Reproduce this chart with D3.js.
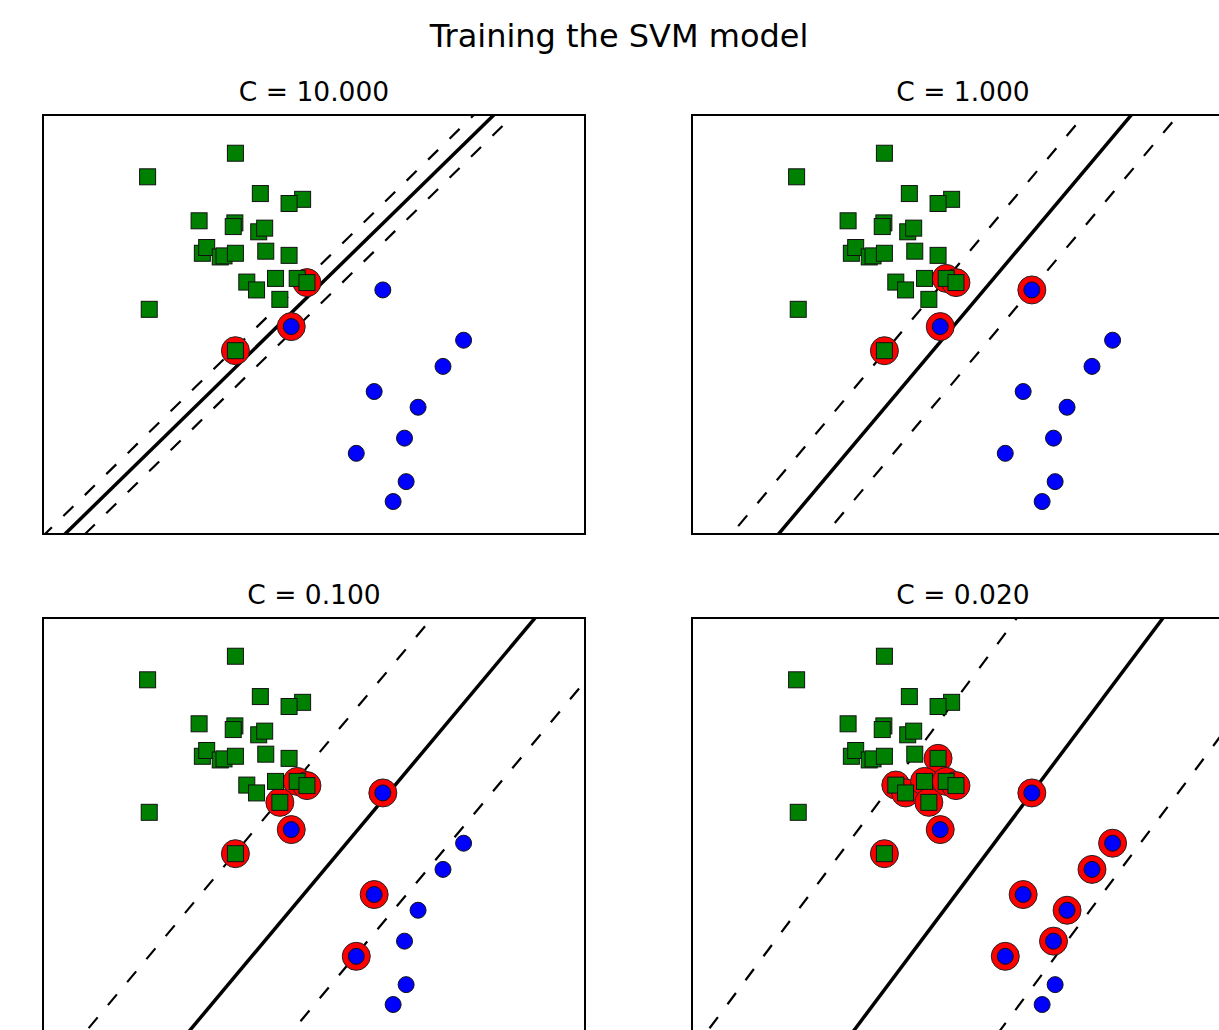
<!DOCTYPE html>
<html>
<head>
<meta charset="utf-8">
<script src="https://cdn.jsdelivr.net/npm/d3@7"></script>
<style>
  body { margin: 0; background: #fff; }
</style>
</head>
<body>
<div id="chart"></div>
<script>
// regularisation values, one per panel
var cValues = [10, 1, 0.1, 0.02];

// class 1 (green squares)
var greenX = [3.55, 1.93, 4.01, 4.79, 4.54, 2.88, 3.54, 3.51, 3.98, 4.09, 2.94, 3.02, 3.27,
              3.34, 3.55, 4.11, 4.54, 3.76, 3.94, 4.29, 4.69, 4.87, 4.37, 1.96, 3.55];
var greenY = [7.27, 6.82, 6.50, 6.39, 6.31, 5.98, 5.94, 5.87, 5.77, 5.84, 5.36, 5.47, 5.29,
              5.31, 5.36, 5.40, 5.32, 4.81, 4.66, 4.88, 4.88, 4.80, 4.48, 4.29, 3.50];

// class 2 (blue dots)
var blueX = [6.27, 4.58, 7.76, 7.38, 6.11, 6.92, 6.67, 5.78, 6.70, 6.46];
var blueY = [4.66, 3.96, 3.70, 3.20, 2.72, 2.42, 1.83, 1.54, 1.00, 0.62];

// decision function w1*x + w2*y + b for each C
var weightX = [2.71, 1.153, 0.526, 0.371];
var weightY = [-2.68, -0.938, -0.4255, -0.2686];
var bias = [-1.10, -1.841, -1.371, -1.075];

// support vectors (indices into the point lists)
var supportGreen = [[21, 24], [20, 21, 24], [20, 21, 22, 24], [16, 17, 18, 19, 20, 21, 22, 24]];
var supportBlue = [[1], [0, 1], [0, 1, 4, 7], [0, 1, 2, 3, 4, 5, 6, 7]];

var xDomain = [0, 10];
var yDomain = [0, 8];

var width = 1219, height = 1030;
var panelW = 542, panelH = 419;
var panelLeft = [43, 692, 43, 692];
var panelTop = [115, 115, 618, 618];

var svg = d3.select("#chart")
  .append("svg")
  .attr("width", width)
  .attr("height", height)
  .style("display", "block")
  .style("background", "#fff");

svg.append("text")
  .attr("x", 619)
  .attr("y", 47)
  .attr("text-anchor", "middle")
  .attr("font-family", "DejaVu Sans")
  .style("font-size", "32px")
  .attr("fill", "#000")
  .text("Training the SVM model");

var x = d3.scaleLinear().domain(xDomain).range([0, panelW]);
var y = d3.scaleLinear().domain(yDomain).range([panelH, 0]);

function drawPanel(i) {
    var g = svg.append("g")
      .attr("transform", "translate(" + panelLeft[i] + "," + panelTop[i] + ")");

    g.append("clipPath")
      .attr("id", "clip" + i)
      .append("rect")
      .attr("width", panelW)
      .attr("height", panelH);

    g.append("text")
      .attr("x", panelW / 2)
      .attr("y", -14)
      .attr("text-anchor", "middle")
      .attr("font-family", "DejaVu Sans")
      .style("font-size", "26.5px")
      .attr("fill", "#000")
      .text("C = " + d3.format(".3f")(cValues[i]));

    var inner = g.append("g").attr("clip-path", "url(#clip" + i + ")");

    // margins (-1, +1) and boundary (0)
    var line = d3.line()
      .x(function(d) { return x(d[0]); })
      .y(function(d) { return y(d[1]); });

    [-1, 0, 1].forEach(function(level) {
        var pts = [xDomain[0] - 2, xDomain[1] + 2].map(function(xv) {
            return [xv, (level - bias[i] - weightX[i] * xv) / weightY[i]];
        });
        inner.append("path")
          .attr("d", line(pts))
          .attr("fill", "none")
          .attr("stroke", "#000")
          .attr("stroke-width", level === 0 ? 3.5 : 2.2)
          .attr("stroke-dasharray", level === 0 ? null : "14,16");
    });

    // rings round the support vectors
    var rings = supportGreen[i].map(function(k) { return [greenX[k], greenY[k]]; })
      .concat(supportBlue[i].map(function(k) { return [blueX[k], blueY[k]]; }));

    inner.selectAll(".ring")
      .data(rings)
      .enter()
      .append("circle")
      .attr("class", "ring")
      .attr("cx", function(d) { return x(d[0]); })
      .attr("cy", function(d) { return y(d[1]); })
      .attr("r", 14)
      .attr("fill", "#ff0000")
      .attr("stroke", "#222")
      .attr("stroke-width", 1);

    inner.selectAll(".sq")
      .data(d3.range(greenX.length))
      .enter()
      .append("rect")
      .attr("class", "sq")
      .attr("x", function(k) { return x(greenX[k]) - 8; })
      .attr("y", function(k) { return y(greenY[k]) - 8; })
      .attr("width", 16)
      .attr("height", 16)
      .attr("fill", "#008000")
      .attr("stroke", "#111")
      .attr("stroke-width", 1);

    inner.selectAll(".dot")
      .data(d3.range(blueX.length))
      .enter()
      .append("circle")
      .attr("class", "dot")
      .attr("cx", function(k) { return x(blueX[k]); })
      .attr("cy", function(k) { return y(blueY[k]); })
      .attr("r", 8)
      .attr("fill", "#0000ff")
      .attr("stroke", "#111")
      .attr("stroke-width", 1);

    g.append("rect")
      .attr("width", panelW)
      .attr("height", panelH)
      .attr("fill", "none")
      .attr("stroke", "#000")
      .attr("stroke-width", 2);
}

for (var i = 0; i < cValues.length; i++) {
    drawPanel(i);
}
</script>
</body>
</html>
